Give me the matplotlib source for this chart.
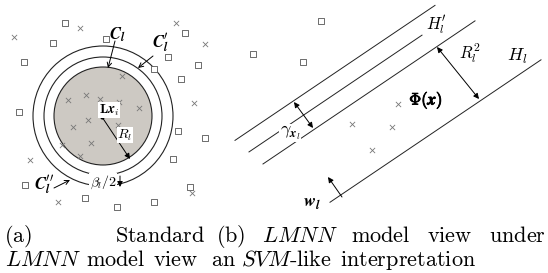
import matplotlib.pyplot as plt
import matplotlib.patheffects as pe
from matplotlib.patches import Circle, FancyArrowPatch

plt.rcParams['mathtext.fontset'] = 'cm'

# left panel: circle centre and radii (pixels)
centre = (103, 116)
radii = [49, 59, 70]

# scattered samples, left panel
sq_left_x = [65, 53, 24, 106, 185, 168, 154, 181, 198, 19, 178, 173, 25, 190, 85, 117, 154]
sq_left_y = [23, 43, 62, 39, 33, 57, 69, 79, 65, 112, 131, 159, 185, 187, 198, 207, 202]
x_left_x = [14, 80, 176, 194, 30, 58, 192, 122, 68, 86, 100, 119, 139, 88, 118, 73, 62, 91, 80]
x_left_y = [37, 28, 23, 103, 160, 202, 193, 76, 100, 95, 99, 102, 108, 120, 125, 127, 145, 143, 156]

# right panel: hyperplanes y = c - slope*x
slope = 0.675
offsets = [299, 320, 341.5, 425]
line_xs = [(235, 435), (249, 422), (263, 475), (330, 541)]

sq_right_x = [321, 253, 303, 205]
sq_right_y = [21, 54, 62, 138]
x_right_x = [205, 398, 352, 392, 372]
x_right_y = [44, 104, 124, 127, 150]

# caption words: (text, x, alignment)
caption1 = [(r'$\mathrm{(a)}$', 4, 'left'), (r'$\mathrm{Standard}$', 205, 'right'),
            (r'$\mathrm{(b)}$', 216, 'left'), (r'$LMNN$', 262, 'left'),
            (r'$\mathrm{model}$', 351, 'left'), (r'$\mathrm{view}$', 427, 'left'),
            (r'$\mathrm{under}$', 546, 'right')]
caption2 = [(r'$LMNN$', 5, 'left'), (r'$\mathrm{model}$', 86, 'left'),
            (r'$\mathrm{view}$', 153, 'left'), (r'$\mathrm{an}$', 211, 'left'),
            (r'$SVM\mathrm{\text{-}like}$', 241, 'left'),
            (r'$\mathrm{interpretation}$', 340, 'left')]

fig = plt.figure(figsize=(5.48, 2.73), dpi=100)
ax = fig.add_axes([0, 0, 1, 1])
ax.set_xlim(0, 548)
ax.set_ylim(273, 0)
ax.axis('off')

ink = '#222222'

# circles
ax.add_patch(Circle(centre, radii[0], facecolor='#cdc9c3', edgecolor=ink, lw=0.8, zorder=1))
for r in radii[1:]:
    ax.add_patch(Circle(centre, r, facecolor='none', edgecolor=ink, lw=0.8, zorder=1))

ax.scatter(sq_left_x + sq_right_x, sq_left_y + sq_right_y, marker='s', s=14,
           facecolor='white', edgecolor='#555555', linewidths=0.6, zorder=2)
ax.scatter(x_left_x + x_right_x, x_left_y + x_right_y, marker='x', s=14,
           color='#777777', linewidths=0.6, zorder=2)


def arrow(p0, p1, style='-|>', lw=0.7):
    ax.add_patch(FancyArrowPatch(p0, p1, arrowstyle=style, mutation_scale=8,
                                 color='black', lw=lw, shrinkA=0, shrinkB=0, zorder=4))


# left panel annotations
arrow((102, 117), (130, 159))
ax.plot([102], [117], marker='o', ms=2, color='black', zorder=4)
ax.text(109, 110, r'$\mathbf{L}\boldsymbol{x}_i$', fontsize=10, ha='center', va='center',
        bbox=dict(facecolor='white', edgecolor='none', pad=0.5), zorder=5)
ax.text(125, 135, r'$R_l$', fontsize=10, ha='center', va='center',
        bbox=dict(facecolor='white', edgecolor='none', pad=0.2), zorder=5)
ax.text(118, 35, r'$\boldsymbol{C}_{\boldsymbol{l}}$', fontsize=12, ha='center', va='center', zorder=5)
arrow((115, 41), (108, 68), style='->')
ax.text(161, 43, r'$\boldsymbol{C}_{\boldsymbol{l}}^{\prime}$', fontsize=12, ha='center', va='center', zorder=5)
arrow((153, 56), (138, 68), style='->')
ax.text(44, 185, r'$\boldsymbol{C}_{\boldsymbol{l}}^{\prime\prime}$', fontsize=12, ha='center', va='center', zorder=5)
arrow((54, 188), (70, 180), style='->')
ax.text(103, 182, r'$\beta_l/\mathbf{2}$', fontsize=10, ha='center', va='center',
        bbox=dict(facecolor='white', edgecolor='none', pad=0.3), zorder=5)
arrow((120, 176), (120, 187))

# right panel hyperplanes
for c, (xa, xb) in zip(offsets, line_xs):
    ax.plot([xa, xb], [c - slope * xa, c - slope * xb], color=ink, lw=0.7, zorder=1)

arrow((294, 102), (313, 128), style='<|-|>')
ax.text(290, 133, r'$\gamma_{\boldsymbol{x}_l}$', fontsize=13, ha='center', va='center',
        bbox=dict(facecolor='white', edgecolor='none', pad=0.3), zorder=5)
arrow((437, 47), (479, 99), style='<|-|>')
ax.text(436, 25, r'$H_l^{\prime}$', fontsize=12, ha='center', va='center', zorder=5)
ax.text(470, 53, r'$R_l^2$', fontsize=12, ha='center', va='center', zorder=5)
ax.text(517, 56, r'$H_l$', fontsize=13, ha='center', va='center', zorder=5)
ax.text(426, 100, r'$\boldsymbol{\Phi}(\boldsymbol{x})$', fontsize=12, ha='center', va='center', zorder=5,
        path_effects=[pe.withStroke(linewidth=0.6, foreground='black')])
arrow((342, 197), (328, 177))
ax.text(312, 203, r'$\boldsymbol{w}_{\boldsymbol{l}}$', fontsize=13, ha='center', va='center', zorder=5)

# captions
for word, x, align in caption1:
    ax.text(x, 242, word, fontsize=16, ha=align, va='baseline', zorder=5)
for word, x, align in caption2:
    ax.text(x, 266, word, fontsize=16, ha=align, va='baseline', zorder=5)

fig.savefig('out.png', dpi=100)
